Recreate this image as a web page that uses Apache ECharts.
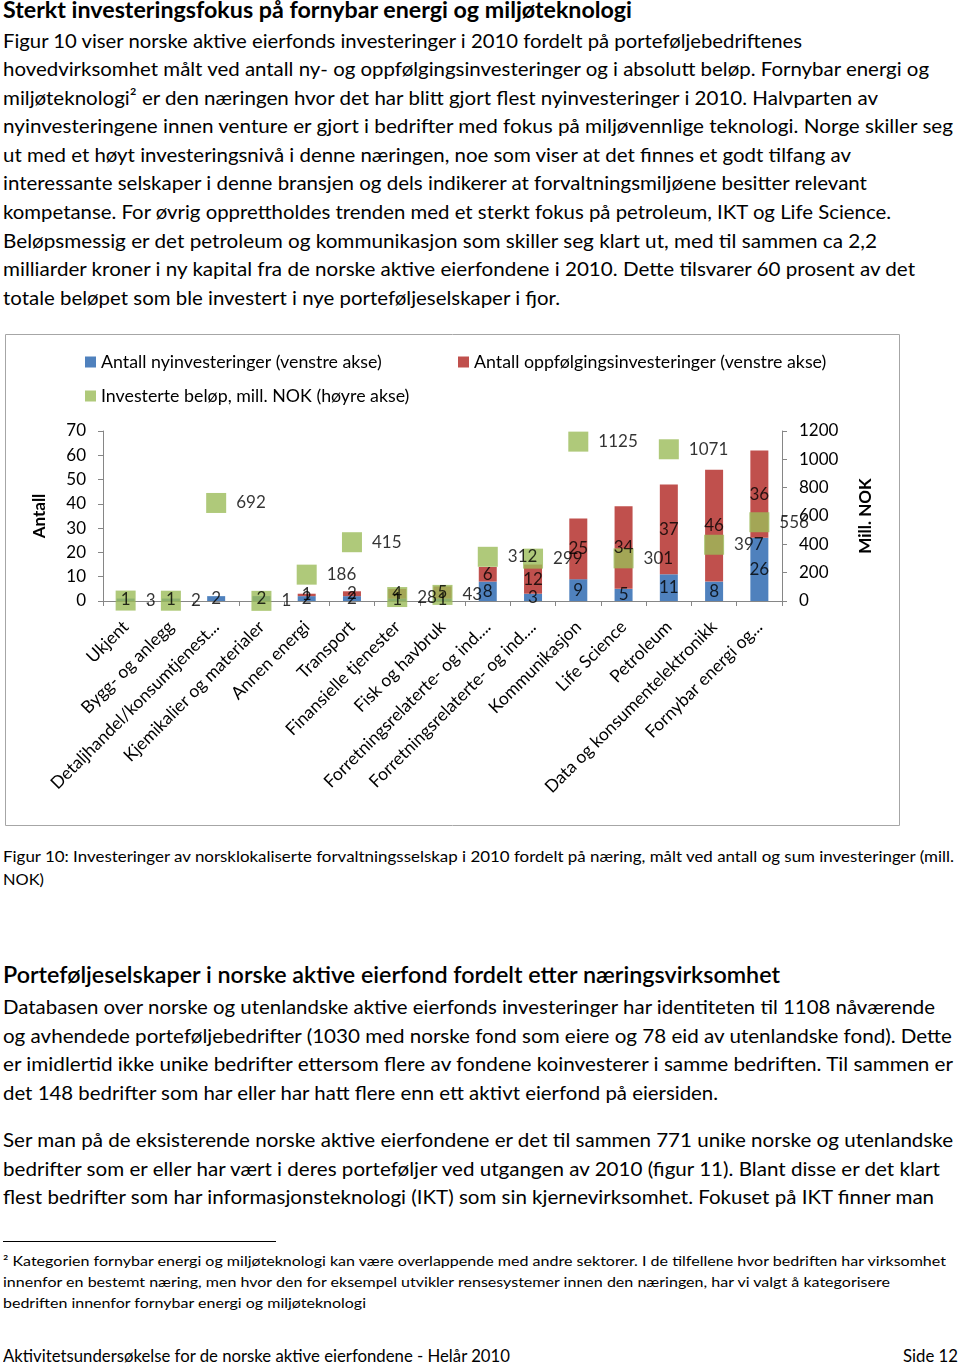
<!DOCTYPE html>
<html><head><meta charset="utf-8">
<script src="https://cdn.jsdelivr.net/npm/echarts@6/dist/echarts.min.js"></script>
<style>
html,body{margin:0;padding:0;background:#fff;}
#page{position:relative;width:960px;height:1365px;overflow:hidden;font-family:Lato,"Open Sans",sans-serif;color:#000;background:#fff;}
.ln{position:absolute;white-space:nowrap;transform-origin:0 50%;line-height:1.2;}
#rule{position:absolute;left:3px;top:1241px;width:273px;height:1px;background:#000;}
#chart{position:absolute;left:5px;top:334px;width:895px;height:492px;}
</style></head>
<body><div id="page"><div id="rule"></div><div id="chart"></div></div>
<script>
// ---- chart data ----
const categories = ['Ukjent','Bygg- og anlegg','Detaljhandel/konsumtjenest...','Kjemikalier og materialer','Annen energi','Transport','Finansielle tjenester','Fisk og havbruk','Forretningsrelaterte- og ind....','Forretningsrelaterte- og ind....','Kommunikasjon','Life Science','Petroleum','Data og konsumentelektronikk','Fornybar energi og...'];
const nyinvesteringer = [1,1,2,2,2,2,1,1,8,3,9,5,11,8,26];
const oppfolging      = [0,0,0,0,1,2,4,5,6,12,25,34,37,46,36];
const belop           = [3,2,692,1,186,415,28,43,312,299,1125,301,1071,397,556];
const leftAxis  = {min:0, max:70, interval:10};
const rightAxis = {min:0, max:1200, interval:200};
const seriesNames = ['Antall nyinvesteringer (venstre akse)','Antall oppfølgingsinvesteringer (venstre akse)','Investerte beløp, mill. NOK (høyre akse)'];

// ---- page text ----
const lines = [
 ['Sterkt investeringsfokus på fornybar energi og miljøteknologi',3,12,632,22,700],
 ['Figur 10 viser norske aktive eierfonds investeringer i 2010 fordelt på porteføljebedriftenes',3,41,802,20,400],
 ['hovedvirksomhet målt ved antall ny- og oppfølgingsinvesteringer og i absolutt beløp. Fornybar energi og',3,69,929,20,400],
 ['miljøteknologi² er den næringen hvor det har blitt gjort flest nyinvesteringer i 2010. Halvparten av',3,98,878,20,400],
 ['nyinvesteringene innen venture er gjort i bedrifter med fokus på miljøvennlige teknologi. Norge skiller seg',3,126,953,20,400],
 ['ut med et høyt investeringsnivå i denne næringen, noe som viser at det finnes et godt tilfang av',3,155,851,20,400],
 ['interessante selskaper i denne bransjen og dels indikerer at forvaltningsmiljøene besitter relevant',3,183,867,20,400],
 ['kompetanse. For øvrig opprettholdes trenden med et sterkt fokus på petroleum, IKT og Life Science.',3,212,891,20,400],
 ['Beløpsmessig er det petroleum og kommunikasjon som skiller seg klart ut, med til sammen ca 2,2',3,241,877,20,400],
 ['milliarder kroner i ny kapital fra de norske aktive eierfondene i 2010. Dette tilsvarer 60 prosent av det',3,269,915,20,400],
 ['totale beløpet som ble investert i nye porteføljeselskaper i fjor.',3,298,560,20,400],
 ['Figur 10: Investeringer av norsklokaliserte forvaltningsselskap i 2010 fordelt på næring, målt ved antall og sum investeringer (mill.',3,857,954,16,400],
 ['NOK)',3,880,44,16,400],
 ['Porteføljeselskaper i norske aktive eierfond fordelt etter næringsvirksomhet',3,977,780,22,600],
 ['Databasen over norske og utenlandske aktive eierfonds investeringer har identiteten til 1108 nåværende',3,1007,935,20,400],
 ['og avhendede porteføljebedrifter (1030 med norske fond som eiere og 78 eid av utenlandske fond). Dette',3,1036,952,20,400],
 ['er imidlertid ikke unike bedrifter ettersom flere av fondene koinvesterer i samme bedriften. Til sammen er',3,1064,953,20,400],
 ['det 148 bedrifter som har eller har hatt flere enn ett aktivt eierfond på eiersiden.',3,1093,718,20,400],
 ['Ser man på de eksisterende norske aktive eierfondene er det til sammen 771 unike norske og utenlandske',3,1140,953,20,400],
 ['bedrifter som er eller har vært i deres porteføljer ved utgangen av 2010 (figur 11). Blant disse er det klart',3,1169,940,20,400],
 ['flest bedrifter som har informasjonsteknologi (IKT) som sin kjernevirksomhet. Fokuset på IKT finner man',3,1197,934,20,400],
 ['² Kategorien fornybar energi og miljøteknologi kan være overlappende med andre sektorer. I de tilfellene hvor bedriften har virksomhet',3,1262,946,14,400],
 ['innenfor en bestemt næring, men hvor den for eksempel utvikler rensesystemer innen den næringen, har vi valgt å kategorisere',3,1283,890,14,400],
 ['bedriften innenfor fornybar energi og miljøteknologi',3,1304,366,14,400],
 ['Aktivitetsundersøkelse for de norske aktive eierfondene -  Helår 2010',3,1357,510,17,400],
 ['Side 12',903,1357,958,17,400]
];
const page = document.getElementById('page');
lines.forEach(([t,x,cy,r,fs,fw])=>{
  const d=document.createElement('div');
  d.className='ln'; d.textContent=t;
  d.style.left=x+'px'; d.style.top=(cy-fs*0.66)+'px';
  d.style.fontSize=fs+'px'; d.style.fontWeight=fw;
  page.appendChild(d);
  const w=d.getBoundingClientRect().width;
  d.style.transform='scaleX('+((r-x)/w).toFixed(4)+')';
});

// ---- chart ----
const FONT='Lato';
const fs=17;
function midLabels(vals, base){
  return vals.map((v,i)=> v>0 ? [i, (base?base[i]:0)+v/2] : '-');
}
const chart = echarts.init(document.getElementById('chart'));
const legendCommon = {orient:'horizontal',icon:'rect',itemWidth:11,itemHeight:11,padding:0,itemGap:0,
  textStyle:{fontFamily:FONT,fontSize:17.8,color:'#000'},selectedMode:false};
chart.setOption({
  animation:false,
  textStyle:{fontFamily:FONT},
  graphic:[{type:'rect',shape:{x:0.5,y:0.5,width:894,height:491},style:{fill:'none',stroke:'#a6a6a6',lineWidth:1},silent:true}],
  legend:[
    Object.assign({left:80,top:19,data:[seriesNames[0]]},legendCommon),
    Object.assign({left:453,top:19,data:[seriesNames[1]]},legendCommon),
    Object.assign({left:80,top:53,data:[seriesNames[2]]},legendCommon)
  ],
  grid:{left:98,right:118,top:97,bottom:225,containLabel:false},
  xAxis:{type:'category',data:categories,
    axisLine:{lineStyle:{color:'#868686'}},
    axisTick:{show:true,alignWithLabel:false,interval:0,length:5,lineStyle:{color:'#868686'}},
    axisLabel:{interval:0,rotate:45,fontSize:17.5,fontFamily:FONT,color:'#000',margin:23},
    splitLine:{show:false}},
  yAxis:[
    {type:'value',min:leftAxis.min,max:leftAxis.max,interval:leftAxis.interval,position:'left',
     name:'Antall',nameLocation:'middle',nameRotate:90,nameGap:55,
     nameTextStyle:{fontFamily:FONT,fontSize:fs,fontWeight:'bold',color:'#000'},
     axisLine:{show:true,lineStyle:{color:'#868686'}},
     axisTick:{show:true,length:5,lineStyle:{color:'#868686'}},
     axisLabel:{fontSize:fs,fontFamily:FONT,color:'#000',margin:17,formatter:v=>String(v)},
     splitLine:{show:false}},
    {type:'value',min:rightAxis.min,max:rightAxis.max,interval:rightAxis.interval,position:'right',
     name:'Mill. NOK',nameLocation:'middle',nameRotate:90,nameGap:75,
     nameTextStyle:{fontFamily:FONT,fontSize:fs,fontWeight:'bold',color:'#000'},
     axisLine:{show:true,lineStyle:{color:'#868686'}},
     axisTick:{show:true,length:5,lineStyle:{color:'#868686'}},
     axisLabel:{fontSize:fs,fontFamily:FONT,color:'#000',margin:17,formatter:v=>String(v)},
     splitLine:{show:false}}
  ],
  series:[
    {name:seriesNames[0],type:'bar',stack:'a',data:nyinvesteringer,barWidth:18,itemStyle:{color:'#4F81BD'},z:2,emphasis:{disabled:true}},
    {name:seriesNames[1],type:'bar',stack:'a',data:oppfolging,barWidth:18,itemStyle:{color:'#C0504D'},z:2,emphasis:{disabled:true}},
    {name:seriesNames[2],type:'scatter',yAxisIndex:1,data:belop,symbol:'rect',symbolSize:20,itemStyle:{color:'#9BBB59'},z:3,
     label:{show:true,position:'right',distance:10,fontSize:fs,fontFamily:FONT,color:'#000'},emphasis:{disabled:true}},
    {type:'scatter',data:midLabels(nyinvesteringer),symbolSize:1,itemStyle:{color:'rgba(0,0,0,0)'},z:4,silent:true,
     label:{show:true,position:'inside',fontSize:fs,fontFamily:FONT,color:'#000',formatter:p=>String(nyinvesteringer[p.dataIndex])}},
    {type:'scatter',data:midLabels(oppfolging,nyinvesteringer),symbolSize:1,itemStyle:{color:'rgba(0,0,0,0)'},z:4,silent:true,
     label:{show:true,position:'inside',fontSize:fs,fontFamily:FONT,color:'#000',formatter:p=>String(oppfolging[p.dataIndex])}}
  ]
});
</script>
</body></html>
